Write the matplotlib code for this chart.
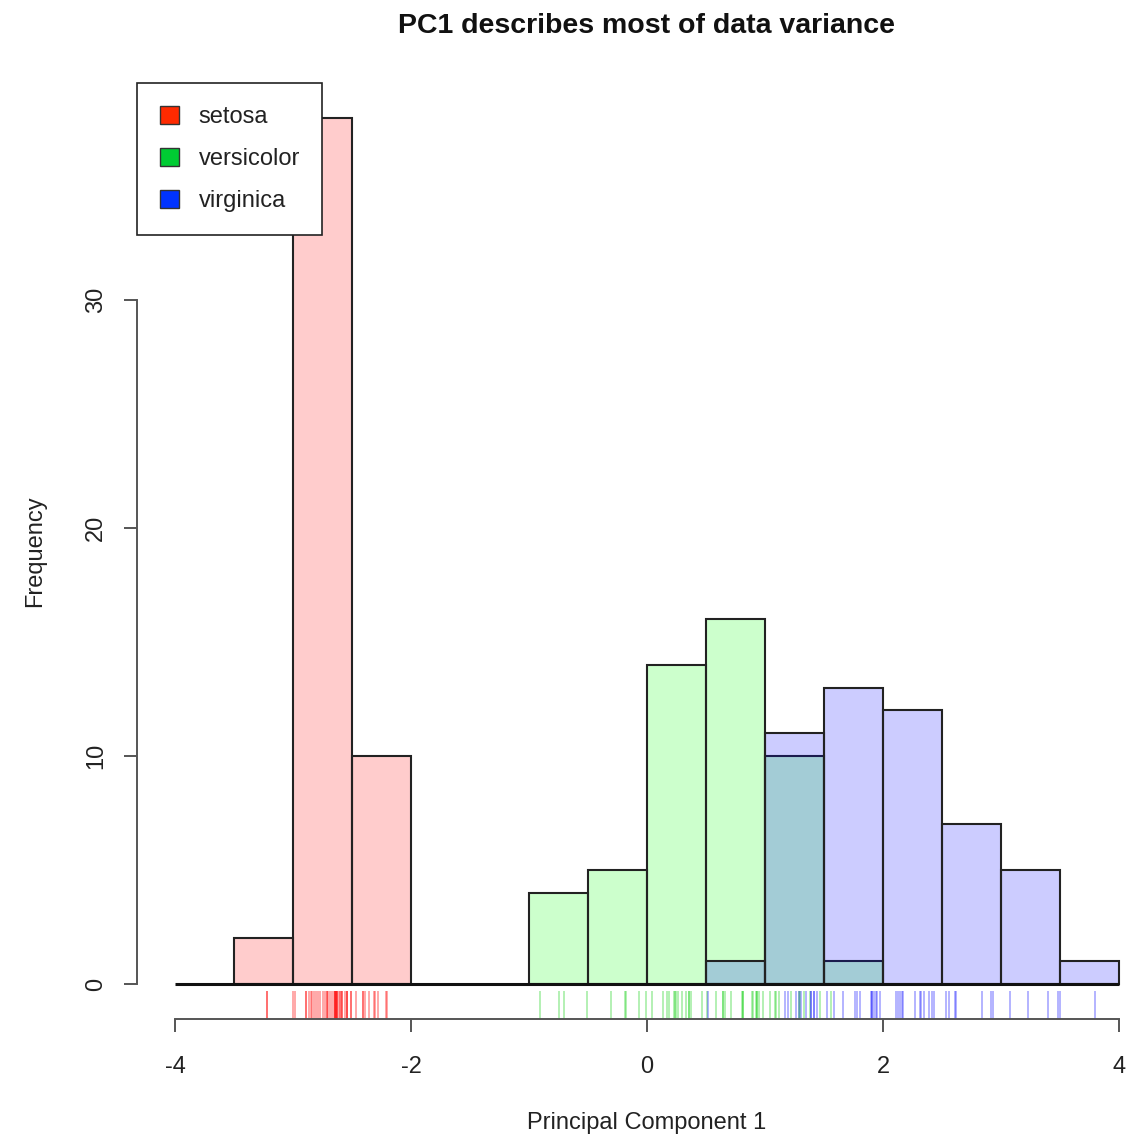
import numpy as np
import matplotlib
matplotlib.use('Agg')
import matplotlib.pyplot as plt
from matplotlib.patches import Patch

plt.rcParams['font.family'] = ['Liberation Sans', 'DejaVu Sans']

# PC1 scores per species
setosa = [-2.684, -2.714, -2.889, -2.745, -2.729, -2.281, -2.821, -2.626, -2.886, -2.673,
          -2.507, -2.613, -2.786, -3.224, -2.645, -2.386, -2.624, -2.648, -2.200, -2.588,
          -2.310, -2.544, -3.216, -2.303, -2.356, -2.507, -2.469, -2.562, -2.640, -2.632,
          -2.587, -2.410, -2.649, -2.599, -2.637, -2.866, -2.625, -2.801, -2.981, -2.590,
          -2.770, -2.849, -2.997, -2.406, -2.209, -2.714, -2.538, -2.839, -2.543, -2.703]
versicolor = [1.285, 0.932, 1.464, 0.183, 1.088, 0.642, 1.095, -0.749, 1.044, -0.009,
              -0.508, 0.512, 0.265, 0.985, -0.174, 0.928, 0.660, 0.236, 0.945, 0.045,
              1.116, 0.358, 1.298, 0.922, 0.715, 0.900, 1.332, 1.558, 0.813, -0.306,
              -0.068, -0.190, 0.136, 1.380, 0.588, 0.807, 1.221, 0.815, 0.246, 0.166,
              0.465, 0.891, 0.231, -0.705, 0.357, 0.332, 0.376, 0.643, -0.906, 0.299]
virginica = [2.531, 1.415, 2.617, 1.972, 2.350, 3.397, 0.521, 2.933, 2.321, 2.917,
             1.662, 1.803, 2.166, 1.346, 1.586, 1.904, 1.950, 3.487, 3.796, 1.301,
             2.428, 1.199, 3.4999, 1.389, 2.275, 2.614, 1.259, 1.291, 2.124, 2.388,
             2.842, 3.231, 2.159, 1.444, 1.781, 3.076, 2.144, 1.905, 1.169, 2.108,
             2.314, 1.922, 1.415, 2.563, 2.419, 1.944, 1.527, 1.764, 1.901, 1.390]

species = ['setosa', 'versicolor', 'virginica']
fills = [(1, 0, 0, 0.2), (0, 1, 0, 0.2), (0, 0, 1, 0.2)]
rug_cols = [(1, 0, 0, 0.4), (0, 0.8, 0, 0.35), (0, 0, 1, 0.35)]
solid = ['#ff2a00', '#00cc33', '#0033ff']
breaks = np.arange(-4, 4.01, 0.5)

fig = plt.figure(figsize=(11.31, 11.38), dpi=100)
ax = fig.add_axes([0.1213, 0.1048, 0.9015, 0.8222])
ax.set_xlim(-4.32, 4.32)
ax.set_ylim(-1.52, 39.52)

for vals, fc in zip([setosa, versicolor, virginica], fills):
    counts, _ = np.histogram(vals, bins=breaks)
    nz = counts > 0
    ax.bar(breaks[:-1][nz], counts[nz], width=0.5, align='edge',
           facecolor=fc, edgecolor='#222222', linewidth=1.5)
ax.hlines(0, -4, 4, color='#111111', linewidth=2.2)

for vals, rc in zip([setosa, versicolor, virginica], rug_cols):
    ax.vlines(vals, 0, 0.03, transform=ax.get_xaxis_transform(), color=rc, linewidth=1.2)

for s in ['top', 'right']:
    ax.spines[s].set_visible(False)
ax.spines['left'].set_bounds(0, 30)
ax.spines['bottom'].set_bounds(-4, 4)
for s in ['left', 'bottom']:
    ax.spines[s].set_color('#555555')
    ax.spines[s].set_linewidth(1.4)

ax.set_xticks([-4, -2, 0, 2, 4])
ax.set_xticklabels(['-4', '-2', '0', '2', '4'])
ax.set_yticks([0, 10, 20, 30])
ax.set_yticklabels(['0', '10', '20', '30'], rotation=90, va='center')
ax.tick_params(axis='both', length=9.5, width=1.4, color='#555555',
               labelsize=17, labelcolor='#222222')
ax.tick_params(axis='x', pad=17)
ax.tick_params(axis='y', pad=12)

fig.text(0.5713, 1 - 26 / 1138, 'PC1 describes most of data variance',
         ha='center', va='center', fontsize=20.5, fontweight='bold', color='#111111')
fig.text(0.5713, 1 - 1123 / 1138, 'Principal Component 1',
         ha='center', va='center', fontsize=17, color='#222222')
fig.text(35 / 1131, 1 - 551 / 1138, 'Frequency', rotation=90,
         ha='center', va='center', fontsize=17, color='#222222')

handles = [Patch(facecolor=c, edgecolor='#333333', linewidth=1) for c in solid]
leg = ax.legend(handles, species, loc='upper left', bbox_to_anchor=(0, 1.0),
                borderaxespad=0, fancybox=False, framealpha=1, edgecolor='#222222',
                fontsize=17, handlelength=0.8, handleheight=0.8, handletextpad=0.85,
                labelspacing=0.85, borderpad=0.95, labelcolor='#222222')
leg.get_frame().set_linewidth(1.2)

fig.savefig('out.png', dpi=100)
